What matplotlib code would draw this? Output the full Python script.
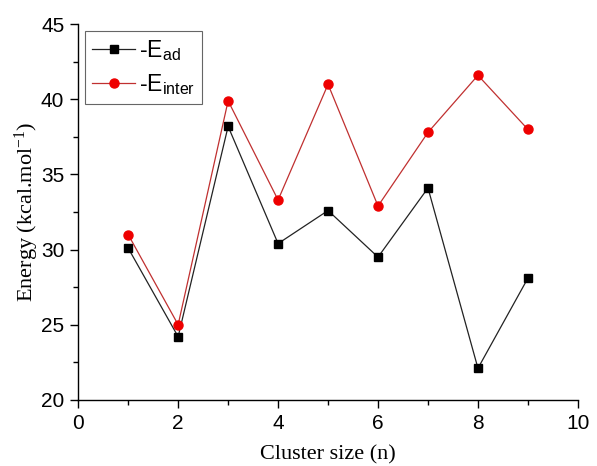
import matplotlib
matplotlib.use("Agg")
import matplotlib.pyplot as plt
from matplotlib.ticker import MultipleLocator

cluster_size = [1, 2, 3, 4, 5, 6, 7, 8, 9]
e_ad = [30.1, 24.2, 38.2, 30.4, 32.6, 29.5, 34.1, 22.1, 28.1]
e_inter = [31.0, 25.0, 39.9, 33.3, 41.0, 32.9, 37.8, 41.6, 38.0]

fig = plt.figure(figsize=(5.97, 4.66), dpi=100)
ax = fig.add_axes([0.131, 0.142, 0.837, 0.806])

ax.plot(cluster_size, e_ad, color="#222222", lw=0.9, marker="s", ms=5.5,
        mfc="black", mec="black", label=r"-E$\mathregular{_{ad}}$")
ax.plot(cluster_size, e_inter, color="#c03030", lw=0.9, marker="o", ms=6.5,
        mfc="#ee0000", mec="#ee0000", label=r"-E$\mathregular{_{inter}}$")

ax.set_xlim(0, 10)
ax.set_ylim(20, 45)
ax.xaxis.set_major_locator(MultipleLocator(2))
ax.xaxis.set_minor_locator(MultipleLocator(1))
ax.yaxis.set_major_locator(MultipleLocator(5))
ax.yaxis.set_minor_locator(MultipleLocator(2.5))

for side in ("top", "right"):
    ax.spines[side].set_visible(False)
for side in ("left", "bottom"):
    ax.spines[side].set_linewidth(1.0)

ax.tick_params(which="major", direction="out", length=6, width=1.0,
               labelsize=15, pad=4)
ax.tick_params(which="minor", direction="out", length=3.5, width=1.0)
for lbl in ax.get_xticklabels() + ax.get_yticklabels():
    lbl.set_fontfamily("Liberation Sans")

ax.set_xlabel("Cluster size (n)", fontsize=16, family="Liberation Serif",
              labelpad=9)
ax.set_ylabel(r"Energy (kcal.mol$\mathregular{^{-1}}$)", fontsize=16,
              family="Liberation Serif", labelpad=0)

leg = ax.legend(loc="upper left", bbox_to_anchor=(0.0, 1.0),
                prop={"family": "Liberation Sans", "size": 16.5},
                frameon=True, fancybox=False, edgecolor="#666666",
                framealpha=1, handlelength=1.9, handletextpad=0.15,
                borderpad=0.3, labelspacing=0.4, borderaxespad=0.3)
leg.get_frame().set_linewidth(0.8)

fig.savefig("out.png", dpi=100)
